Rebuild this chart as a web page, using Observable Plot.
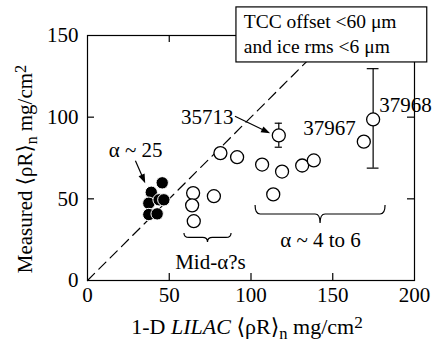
<!DOCTYPE html>
<html><head><meta charset="utf-8">
<script src="https://cdn.jsdelivr.net/npm/d3@7"></script>
<script src="https://cdn.jsdelivr.net/npm/@observablehq/plot@0.6"></script>
<style>
body{margin:0;background:#fff} svg{display:block}
#chart svg, #chart svg text { font-family: "Liberation Serif", "DejaVu Serif", serif !important; }
</style>
</head><body><div id="chart"></div>
<script>
// α ~ 25 shots (filled)
const filledX = [45.7, 39.0, 37.5, 43.8, 46.7, 37.5, 42.6];
const filledY = [59.8, 54.0, 47.3, 49.4, 49.4, 40.4, 40.8];
// other shots (open)
const openX = [64.6, 64.0, 65.0, 77.3, 81.3, 91.5, 106.8, 113.6, 119.0, 117.0, 131.3, 138.4, 169.0, 174.7];
const openY = [53.5, 46.0, 36.3, 51.6, 78.0, 75.5, 71.0, 52.7, 66.7, 88.8, 70.4, 73.5, 85.0, 98.6];
// error bars
const errShot = ["35713", "37968"];
const errX = [117.0, 174.7];
const errLo = [81.6, 68.8];
const errHi = [96.3, 129.7];
const errCap = [2.2, 3.6];
// axes
const xTicks = [0, 50, 100, 150, 200];
const yTicks = [0, 50, 100, 150];
const xInner = [50, 100, 150];
const yInner = [50, 100];
const diag = [0, 140];
// annotation labels
const labText = ["α ~ 25", "35713", "37967", "37968", "Mid-α?s", "α ~ 4 to 6"];
const labX = [29.4, 73.2, 148.0, 194.5, 75.2, 142.5];
const labY = [79.6, 100.1, 93.1, 107.5, 11.0, 24.5];
// arrows (start -> tip)
const arrX1 = [29.6, 90.5], arrY1 = [73.0, 100.3], arrX2 = [35.6, 112.0], arrY2 = [59.3, 89.8];
// braces
const braceX1 = [59.3, 102.8], braceX2 = [88.1, 182.3], braceTop = [28.8, 45.9], braceTip = [23.3, 34.9];
// legend box
const boxLines = ["TCC offset <60 μm", "and ice rms <6 μm"];
const boxLineY = [158.7, 143.3];
const boxX1 = 91.1, boxX2 = 207.8, boxY1 = 133.5, boxY2 = 167.2, boxTextX = 95.6;
const xLabel = "1-D *LILAC* ⟨ρR⟩_n mg/cm^2";
const yLabel = "Measured ⟨ρR⟩_n mg/cm^2";

const filled = filledX.map((x, i) => ({x, y: filledY[i]}));
const open = openX.map((x, i) => ({x, y: openY[i]}));
const errs = errX.map((x, i) => ({x, lo: errLo[i], hi: errHi[i], c: errCap[i]}));
const labs = labText.map((t, i) => ({t, x: labX[i], y: labY[i]}));
const boxT = boxLines.map((t, i) => ({t, y: boxLineY[i]}));

function braces(index, scales) {
  const g = d3.create("svg:g").attr("fill", "none").attr("stroke", "black").attr("stroke-width", 1.2);
  braceX1.forEach((_, i) => {
    const x1 = scales.x(braceX1[i]), x2 = scales.x(braceX2[i]), xc = (x1 + x2) / 2;
    const yt = scales.y(braceTop[i]), yb = scales.y(braceTip[i]), ym = (yt + yb) / 2;
    const r = 5;
    g.append("path").attr("d",
      `M${x1},${yt} Q${x1},${ym} ${x1 + r},${ym} L${xc - r},${ym} Q${xc},${ym} ${xc},${yb} Q${xc},${ym} ${xc + r},${ym} L${x2 - r},${ym} Q${x2},${ym} ${x2},${yt}`);
  });
  return g.node();
}

function arrows(index, scales) {
  const g = d3.create("svg:g");
  const hl = 9, hw = 3.3;
  arrX1.forEach((_, i) => {
    const x1 = scales.x(arrX1[i]), y1 = scales.y(arrY1[i]);
    const x2 = scales.x(arrX2[i]), y2 = scales.y(arrY2[i]);
    const dx = x2 - x1, dy = y2 - y1, L = Math.hypot(dx, dy), ux = dx / L, uy = dy / L;
    const bx = x2 - ux * hl, by = y2 - uy * hl;
    g.append("line").attr("x1", x1).attr("y1", y1).attr("x2", bx + ux * 1).attr("y2", by + uy * 1)
      .attr("stroke", "black").attr("stroke-width", 1.2);
    g.append("path").attr("d",
      `M${x2},${y2} L${bx - uy * hw},${by + ux * hw} L${bx + uy * hw},${by - ux * hw} Z`).attr("fill", "black");
  });
  return g.node();
}

const FS = 21;
const plot = Plot.plot({
  width: 432, height: 342,
  marginLeft: 87, marginRight: 18, marginTop: 35, marginBottom: 62,
  style: {fontSize: FS + "px", background: "white", color: "black"},
  x: {domain: [0, 200]},
  y: {domain: [0, 150]},
  marks: [
    Plot.line(diag, {x: d => d, y: d => d, stroke: "black", strokeWidth: 1.2, strokeDasharray: "10,6"}),
    Plot.ruleX(xInner, {x: d => d, y1: 0, y2: 4.3, stroke: "black", strokeWidth: 1.2}),
    Plot.ruleX(xInner, {x: d => d, y1: 145.7, y2: 150, stroke: "black", strokeWidth: 1.2}),
    Plot.ruleY(yInner, {y: d => d, x1: 0, x2: 4.3, stroke: "black", strokeWidth: 1.2}),
    Plot.ruleY(yInner, {y: d => d, x1: 195.7, x2: 200, stroke: "black", strokeWidth: 1.2}),
    Plot.frame({stroke: "black", strokeWidth: 1.2}),
    Plot.axisX({ticks: xTicks, tickSize: 0, tickPadding: 7, tickFormat: d => d, fontSize: FS, label: null}),
    Plot.axisY({ticks: yTicks, tickSize: 0, tickPadding: 9, tickFormat: d => d, fontSize: FS, label: null}),
    Plot.ruleX(errs, {x: "x", y1: "lo", y2: "hi", stroke: "black", strokeWidth: 1.2}),
    Plot.ruleY(errs, {y: "lo", x1: d => d.x - d.c, x2: d => d.x + d.c, stroke: "black", strokeWidth: 1.2}),
    Plot.ruleY(errs, {y: "hi", x1: d => d.x - d.c, x2: d => d.x + d.c, stroke: "black", strokeWidth: 1.2}),
    Plot.dot(open, {x: "x", y: "y", r: 6.5, fill: "white", stroke: "black", strokeWidth: 1.3}),
    Plot.dot(filled, {x: "x", y: "y", r: 6.2, fill: "black", stroke: "white", strokeWidth: 1}),
    arrows,
    Plot.text(labs, {x: "x", y: "y", text: "t", fontSize: FS, fill: "black"}),
    braces,
    Plot.rect([0], {x1: boxX1, x2: boxX2, y1: boxY1, y2: boxY2, fill: "white", stroke: "black", strokeWidth: 1.2}),
    Plot.text(boxT, {x: boxTextX, y: "y", text: "t", textAnchor: "start", fontSize: 19.5, fill: "black"}),
    Plot.text([xLabel], {frameAnchor: "bottom", textAnchor: "middle", lineAnchor: "middle", dy: 46, dx: -4, fontSize: 22, fill: "black"}),
    Plot.text([yLabel], {frameAnchor: "left", textAnchor: "middle", lineAnchor: "middle", rotate: -90, dx: -62, dy: 11, fontSize: FS, fill: "black"})
  ]
});

function richify(svg) {
  svg.querySelectorAll("text").forEach(t => {
    const s = t.textContent;
    if (!/[\*_\^]/.test(s)) return;
    t.textContent = "";
    const re = /\*([^*]+)\*|_(.)|\^(.)|([^*_^]+)/g;
    let m;
    while ((m = re.exec(s))) {
      const ts = document.createElementNS("http://www.w3.org/2000/svg", "tspan");
      if (m[1]) { ts.textContent = m[1]; ts.setAttribute("font-style", "italic"); }
      else if (m[2]) { ts.textContent = m[2]; ts.setAttribute("baseline-shift", "-30%"); ts.setAttribute("font-size", "75%"); }
      else if (m[3]) { ts.textContent = m[3]; ts.setAttribute("baseline-shift", "38%"); ts.setAttribute("font-size", "78%"); }
      else ts.textContent = m[4];
      t.appendChild(ts);
    }
  });
}
richify(plot);
document.getElementById("chart").appendChild(plot);
</script>
</body></html>
